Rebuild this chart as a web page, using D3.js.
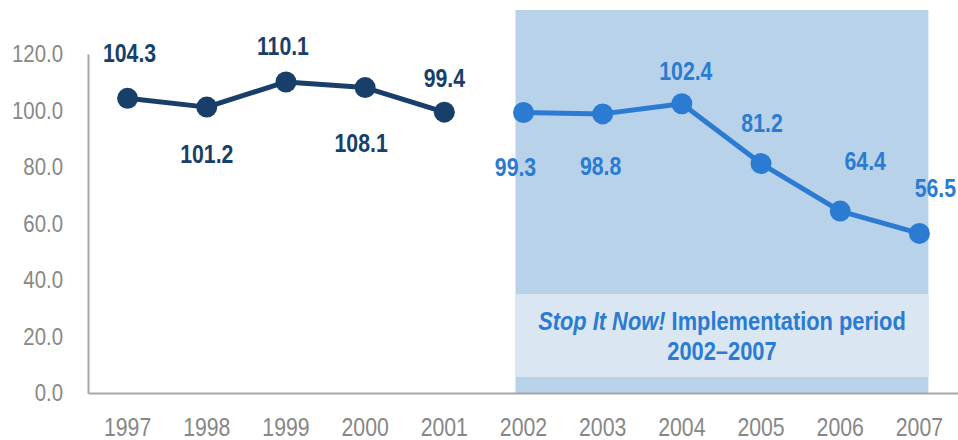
<!DOCTYPE html>
<html>
<head>
<meta charset="utf-8">
<script src="https://cdn.jsdelivr.net/npm/d3@7"></script>
<style>
  html, body { margin: 0; padding: 0; background: #fff; }
  svg text { font-family: "Liberation Sans", Arial, sans-serif; }
</style>
</head>
<body>
<svg id="chart" width="958" height="440"></svg>
<script>
// Data
const years = ['1997','1998','1999','2000','2001','2002','2003','2004','2005','2006','2007']
const beforeYears = ['1997','1998','1999','2000','2001']
const beforeValues = [104.3, 101.2, 110.1, 108.1, 99.4]
const afterYears = ['2002','2003','2004','2005','2006','2007']
const afterValues = [99.3, 98.8, 102.4, 81.2, 64.4, 56.5]
const yTicks = [0, 20, 40, 60, 80, 100, 120]
const periodYears = ['2002', '2007']

const W = 958, H = 440
const m = { left: 88, right: -1, top: 54, bottom: 47 }
const K = 0.85 // horizontal squeeze, the original uses a narrow face
const svg = d3.select('#chart')

// label placement relative to the point: [dx, baseline dy]
const labelOffset = {
  '1997': [2, -36], '1998': [0, 56], '1999': [-3, -27], '2000': [-4, 64], '2001': [0, -25],
  '2002': [-8, 64], '2003': [-2, 61], '2004': [4, -24], '2005': [1, -32], '2006': [25, -41], '2007': [16, -36]
}

// squeeze a text around its own anchor x
function narrow(sel){
  sel.each(function(){
    const t = d3.select(this)
    const x0 = +t.attr('x') || 0
    t.attr('transform', `translate(${x0*(1-K)},0) scale(${K},1)`)
  })
}

const x = d3.scaleBand().domain(years).range([m.left, W - m.right]).padding(0)
const y = d3.scaleLinear().domain([0, 120]).range([H - m.bottom, m.top])
const cx = d => x(d) + x.bandwidth()/2

// implementation period shading
const bx0 = cx(periodYears[0]) - 8, bx1 = cx(periodYears[1]) + 9
svg.append('rect').attr('x', bx0).attr('y', 10).attr('width', bx1 - bx0).attr('height', y(0) - 10)
  .attr('fill', '#b8d2ea')
svg.append('rect').attr('x', bx0).attr('y', y(35)).attr('width', bx1 - bx0).attr('height', y(5.7) - y(35))
  .attr('fill', '#dae7f3')
const note = svg.append('text').attr('x', (bx0 + bx1)/2).attr('y', 330).attr('text-anchor','middle')
  .attr('fill', '#2b7bd2').attr('font-size', 25.7).attr('font-weight', 'bold')
note.append('tspan').attr('font-style','italic').text('Stop It Now!')
note.append('tspan').text(' Implementation period')
const note2 = svg.append('text').attr('x', (bx0 + bx1)/2).attr('y', 360).attr('text-anchor','middle')
  .attr('fill', '#2b7bd2').attr('font-size', 25.7).attr('font-weight', 'bold').text('2002–2007')
narrow(note); narrow(note2)

// axes
const yAxis = svg.append('g').attr('transform', `translate(${m.left},0)`)
  .call(d3.axisLeft(y).tickValues(yTicks).tickFormat(d3.format('.1f')).tickSize(0).tickPadding(25))
yAxis.select('.domain').attr('stroke', '#a6a6a6').attr('stroke-width', 2)
yAxis.selectAll('text').attr('fill', '#878787').attr('font-size', 24).attr('font-family', null).call(narrow)

const xAxis = svg.append('g').attr('transform', `translate(0,${y(0)})`)
  .call(d3.axisBottom(x).tickSize(0).tickPadding(25))
xAxis.select('.domain').attr('stroke', '#a6a6a6').attr('stroke-width', 2)
xAxis.selectAll('text').attr('fill', '#878787').attr('font-size', 25).attr('font-family', null).call(narrow)

function series(yrs, vals, color){
  const g = svg.append('g')
  const pts = yrs.map((d, i) => ({ year: d, v: vals[i] }))
  g.append('path').datum(pts)
    .attr('d', d3.line().x(d => cx(d.year)).y(d => y(d.v)))
    .attr('fill', 'none').attr('stroke', color).attr('stroke-width', 5).attr('stroke-linejoin', 'round')
  g.selectAll('circle').data(pts).join('circle')
    .attr('cx', d => cx(d.year)).attr('cy', d => y(d.v)).attr('r', 10.5).attr('fill', color)
  g.selectAll('text').data(pts).join('text')
    .attr('x', d => cx(d.year) + labelOffset[d.year][0])
    .attr('y', d => y(d.v) + labelOffset[d.year][1])
    .attr('text-anchor', 'middle').attr('fill', color)
    .attr('font-size', 25).attr('font-weight', 'bold')
    .text(d => d3.format('.1f')(d.v))
    .call(narrow)
  return g
}
series(beforeYears, beforeValues, '#173f6a')
series(afterYears, afterValues, '#2b7bd2')
</script>
</body>
</html>
